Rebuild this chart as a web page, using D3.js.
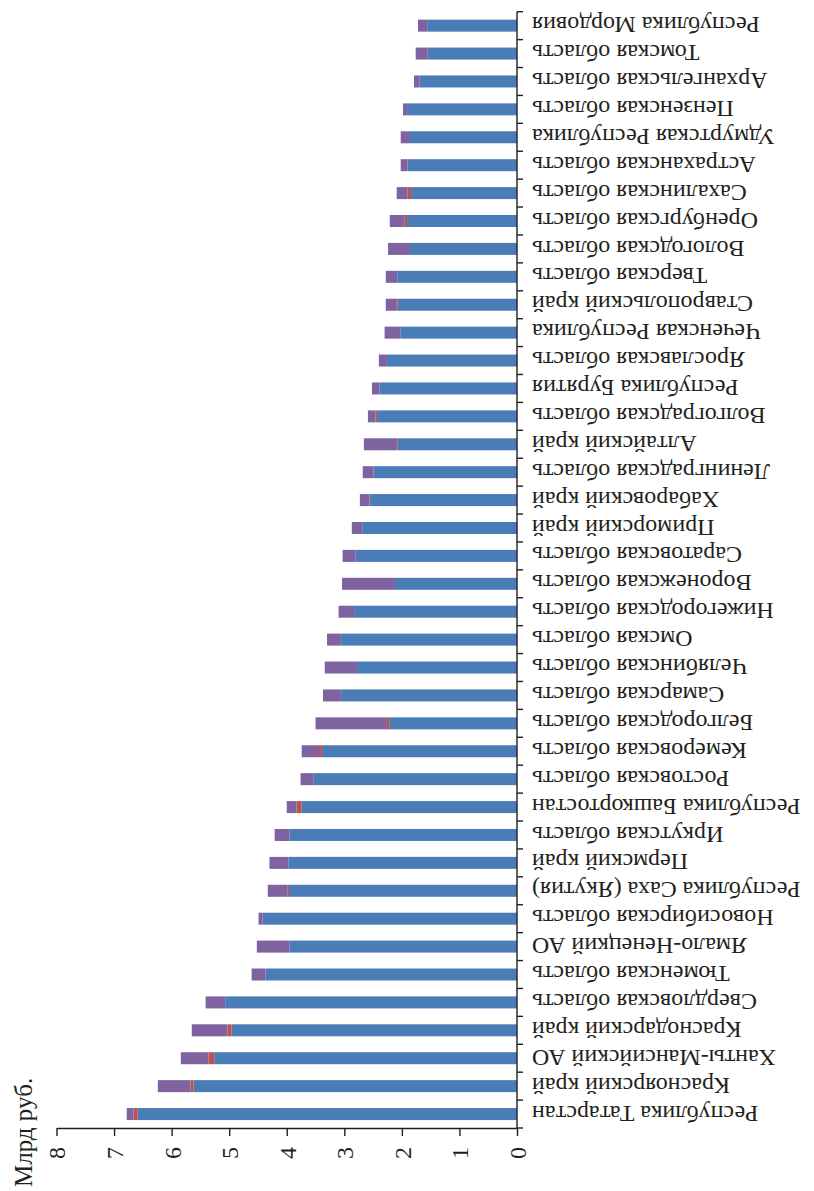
<!DOCTYPE html>
<html>
<head>
<meta charset="utf-8">
<script src="https://cdn.jsdelivr.net/npm/d3@7/dist/d3.min.js"></script>
<style>
  html, body { margin: 0; padding: 0; background: #fff; }
  svg { display: block; }
  text { font-family: "Liberation Serif", "Times New Roman", serif; fill: #231f20; }
</style>
</head>
<body>
<svg id="chart" width="814" height="1191"></svg>
<script>
const categories = [
  "Республика Татарстан", "Красноярский край", "Ханты-Мансийский АО", "Краснодарский край",
  "Свердловская область", "Тюменская область", "Ямало-Ненецкий АО", "Новосибирская область",
  "Республика Саха (Якутия)", "Пермский край", "Иркутская область", "Республика Башкортостан",
  "Ростовская область", "Кемеровская область", "Белгородская область", "Самарская область",
  "Челябинская область", "Омская область", "Нижегородская область", "Воронежская область",
  "Саратовская область", "Приморский край", "Хабаровский край", "Ленинградская область",
  "Алтайский край", "Волгоградская область", "Республика Бурятия", "Ярославская область",
  "Чеченская Республика", "Ставропольский край", "Тверская область", "Вологодская область",
  "Оренбургская область", "Сахалинская область", "Астраханская область", "Удмуртская Республика",
  "Пензенская область", "Архангельская область", "Томская область", "Республика Мордовия"
];
const seriesBlue = [
  6.59, 5.62, 5.26, 4.96, 5.07, 4.37, 3.95, 4.42, 3.96, 3.97,
  3.95, 3.74, 3.53, 3.39, 2.22, 3.06, 2.78, 3.06, 2.83, 2.12,
  2.81, 2.68, 2.56, 2.49, 2.08, 2.43, 2.39, 2.26, 2.02, 2.08,
  2.08, 1.86, 1.91, 1.84, 1.90, 1.86, 1.91, 1.69, 1.55, 1.56
];
const seriesRed = [
  0.07, 0.05, 0.10, 0.07, 0, 0, 0, 0, 0.03, 0,
  0, 0.09, 0, 0.05, 0.04, 0, 0, 0, 0, 0,
  0, 0, 0.01, 0, 0.02, 0.03, 0, 0, 0, 0.02,
  0, 0, 0.04, 0.06, 0.01, 0, 0, 0, 0, 0
];
const seriesPurple = [
  0.12, 0.57, 0.48, 0.62, 0.34, 0.24, 0.57, 0.07, 0.34, 0.33,
  0.26, 0.17, 0.23, 0.30, 1.24, 0.31, 0.56, 0.24, 0.27, 0.92,
  0.22, 0.19, 0.16, 0.19, 0.56, 0.13, 0.13, 0.14, 0.28, 0.18,
  0.20, 0.38, 0.26, 0.19, 0.11, 0.16, 0.07, 0.10, 0.21, 0.16
];
const valueTicks = [0, 1, 2, 3, 4, 5, 6, 7, 8];
const axisTitle = "Млрд руб.";
const seriesKeys = ["blue", "red", "purple"];
const seriesColors = { blue: "#4a7db7", red: "#c0504d", purple: "#7e63a0" };

const rows = categories.map((c, i) => ({
  cat: c, blue: seriesBlue[i], red: seriesRed[i], purple: seriesPurple[i]
}));
const stacked = d3.stack().keys(seriesKeys)(rows);

const svg = d3.select("#chart");
const x = d3.scaleLinear().domain([0, 8]).range([517, 56.5]);
const y = d3.scaleBand().domain(categories).range([1128, 11.7]).paddingInner(0.57).paddingOuter(0.285);

// bars
svg.append("g").selectAll("g").data(stacked).join("g")
  .attr("fill", d => seriesColors[d.key])
  .selectAll("rect").data(d => d).join("rect")
  .attr("x", d => x(d[1]))
  .attr("width", d => Math.max(0, x(d[0]) - x(d[1])))
  .attr("y", d => y(d.data.cat))
  .attr("height", y.bandwidth());

const axisColor = "#231f20";

// value axis (bottom)
const xAxis = svg.append("g").attr("transform", "translate(0,1128)")
  .call(d3.axisBottom(x).tickValues(valueTicks).tickSize(8).tickSizeOuter(0).tickFormat(d3.format("d")));
xAxis.select(".domain").attr("stroke", axisColor).attr("stroke-width", 1.4);
xAxis.selectAll(".tick line").attr("stroke", axisColor).attr("stroke-width", 1.4);
xAxis.selectAll(".tick text")
  .attr("font-size", 24)
  .attr("fill", axisColor)
  .attr("text-anchor", "end")
  .attr("x", 0).attr("y", 0).attr("dy", "0.35em")
  .attr("transform", "translate(0,19) rotate(-90)");

// category axis (right of bars)
const step = y.step();
const axisTop = d3.min(categories, c => y(c)) - y.paddingOuter() * step;
const axisBottom = d3.max(categories, c => y(c)) + y.bandwidth() + y.paddingOuter() * step;
const catAxis = svg.append("g");
catAxis.append("line")
  .attr("x1", x(0)).attr("x2", x(0)).attr("y1", axisTop).attr("y2", axisBottom)
  .attr("stroke", axisColor).attr("stroke-width", 1.4);
const bounds = d3.range(categories.length + 1).map(k => axisTop + k * step);
catAxis.selectAll("line.tk").data(bounds).join("line").attr("class", "tk")
  .attr("x1", x(0)).attr("x2", x(0) + 6)
  .attr("y1", d => d).attr("y2", d => d)
  .attr("stroke", axisColor).attr("stroke-width", 1.4);

// category labels (upside-down)
svg.append("g").selectAll("text").data(categories).join("text")
  .attr("transform", d => `translate(532,${y(d) + y.bandwidth() / 2}) rotate(180)`)
  .attr("text-anchor", "end")
  .attr("dy", "0.35em")
  .attr("font-size", 24)
  .text(d => d);

// axis title
svg.append("text")
  .attr("transform", "translate(23,1187) rotate(-90)")
  .attr("text-anchor", "start")
  .attr("dy", "0.35em")
  .attr("font-size", 25)
  .text(axisTitle);
</script>
</body>
</html>
